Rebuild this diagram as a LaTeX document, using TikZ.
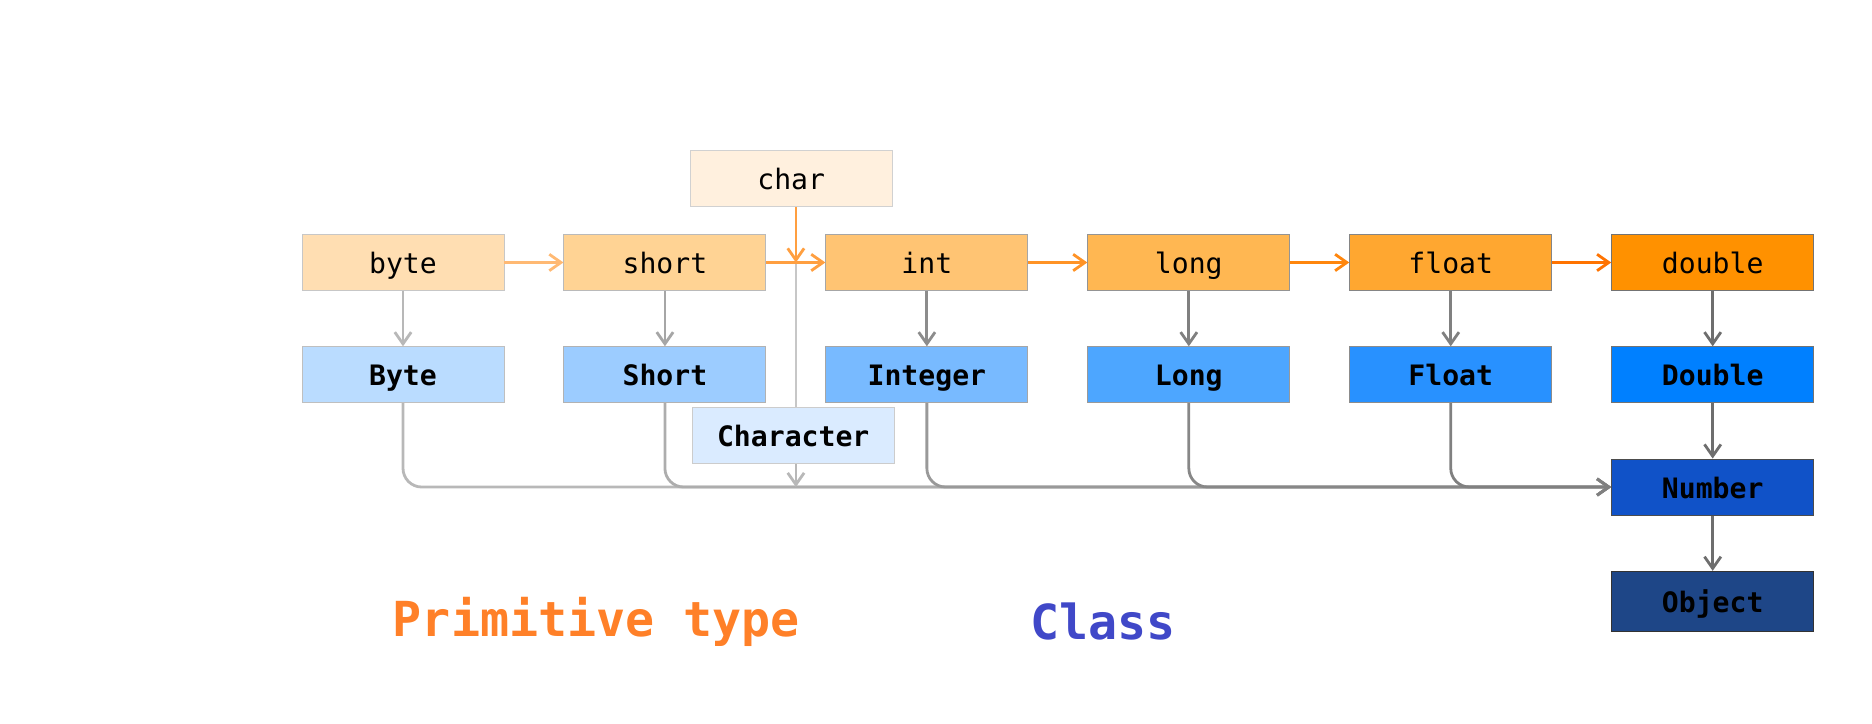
\documentclass[tikz,border=0pt]{standalone}
\usepackage{fontspec}
\setmainfont{DejaVu Sans Mono}
\usepackage{xcolor}
\usepackage{tikz}
\usetikzlibrary{positioning,calc,arrows.meta}

% box colours
\definecolor{byteC}{RGB}{255,222,178}
\definecolor{shortC}{RGB}{255,211,148}
\definecolor{intC}{RGB}{255,196,115}
\definecolor{longC}{RGB}{255,183,82}
\definecolor{floatC}{RGB}{255,167,48}
\definecolor{doubleC}{RGB}{255,145,0}
\definecolor{charC}{RGB}{255,240,222}
\definecolor{ByteC}{RGB}{186,220,255}
\definecolor{ShortC}{RGB}{156,204,255}
\definecolor{IntegerC}{RGB}{120,186,255}
\definecolor{LongC}{RGB}{77,166,255}
\definecolor{FloatC}{RGB}{40,145,255}
\definecolor{DoubleC}{RGB}{0,128,255}
\definecolor{NumberC}{RGB}{16,82,200}
\definecolor{ObjectC}{RGB}{30,70,135}
\definecolor{CharacterC}{RGB}{218,235,255}
% text colours
\definecolor{primText}{RGB}{255,128,40}
\definecolor{clsText}{RGB}{64,72,200}

\begin{document}
\begin{tikzpicture}[node distance=0.83cm and 0.885cm,
    prim/.style={draw, rectangle, minimum width=3.03cm, minimum height=0.84cm, inner sep=0pt,
        text height=10pt, text depth=0.5pt, font=\fontsize{12}{14}\selectfont},
    cls/.style={prim, font=\fontsize{12}{14}\selectfont\bfseries},
    conv/.style={-{Straight Barb[length=5pt,width=7pt]}, line width=1.2pt}]

    % Primitive types
    \node[prim, fill=byteC, draw=black!22] (byte) {byte};
    \node[prim, fill=shortC, draw=black!27, right=of byte] (short) {short};
    \node[prim, fill=intC, draw=black!35, right=of short] (int) {int};
    \node[prim, fill=longC, draw=black!42, right=of int] (long) {long};
    \node[prim, fill=floatC, draw=black!48, right=of long] (float) {float};
    \node[prim, fill=doubleC, draw=black!55, right=of float] (double) {double};

    % char and Character
    \coordinate (jn) at ($(short.east)!0.5!(int.west)$);
    \node[prim, fill=charC, draw=black!18] (char) at ($(jn)+(-0.07,1.26)$) {char};
    \node[cls, fill=CharacterC, draw=black!20] (Character) at ($(jn)+(-0.04,-2.6)$) {Character};

    % Classes
    \node[cls, fill=ByteC, draw=black!25, below=of byte] (Byte) {Byte};
    \node[cls, fill=ShortC, draw=black!30, below=of short] (Short) {Short};
    \node[cls, fill=IntegerC, draw=black!35, below=of int] (Integer) {Integer};
    \node[cls, fill=LongC, draw=black!40, below=of long] (Long) {Long};
    \node[cls, fill=FloatC, draw=black!45, below=of float] (Float) {Float};
    \node[cls, fill=DoubleC, draw=black!55, below=of double] (Double) {Double};
    \node[cls, fill=NumberC, draw=black!70, below=of Double] (Number) {Number};
    \node[cls, fill=ObjectC, draw=black!80, minimum height=0.9cm, below=of Number] (Object) {Object};
    \coordinate (bus) at (jn |- Number.west);

    % Boxing
    \draw[line width=1.2pt, black!22] (jn) -- (jn |- Character.north);
    \draw[conv, black!28] (byte) -- (Byte);
    \draw[conv, black!35] (short) -- (Short);
    \draw[conv, black!45] (int) -- (Integer);
    \draw[conv, black!50] (long) -- (Long);
    \draw[conv, black!50] (float) -- (Float);
    \draw[conv, black!57] (double) -- (Double);
    \draw[conv, black!57] (Double) -- (Number);
    \draw[conv, black!57] (Number) -- (Object);

    % To Number
    \draw[conv, black!28, rounded corners=8pt] (Byte.south) |- (Number.west);
    \draw[conv, black!32, rounded corners=8pt] (Short.south) |- (Number.west);
    \draw[conv, black!28] (jn |- Character.south) -- (bus);
    \draw[conv, black!40, rounded corners=8pt] (Integer.south) |- (Number.west);
    \draw[conv, black!47, rounded corners=8pt] (Long.south) |- (Number.west);
    \draw[conv, black!50, rounded corners=8pt] (Float.south) |- (Number.west);

    % Widening
    \draw[conv, orange!55!white] (byte) -- (short);
    \draw[conv, orange!75!white] (short) -- (int);
    \draw[conv, orange!75!white] (jn |- char.south) -- (jn);
    \draw[conv, orange!85!white] (int) -- (long);
    \draw[conv, orange!95!white] (long) -- (float);
    \draw[conv, orange!90!red] (float) -- (double);

    % Legend
    \node[font=\fontsize{20.6}{24}\selectfont\bfseries, text=primText] (primlbl) at (2.90,-5.39) {Primitive type};
    \node[font=\fontsize{20.6}{24}\selectfont\bfseries, text=clsText] (clslbl) at (10.50,-5.39) {Class};

    \useasboundingbox (-6.045,-6.9225) rectangle (22.035,3.9375);
\end{tikzpicture}
\end{document}
